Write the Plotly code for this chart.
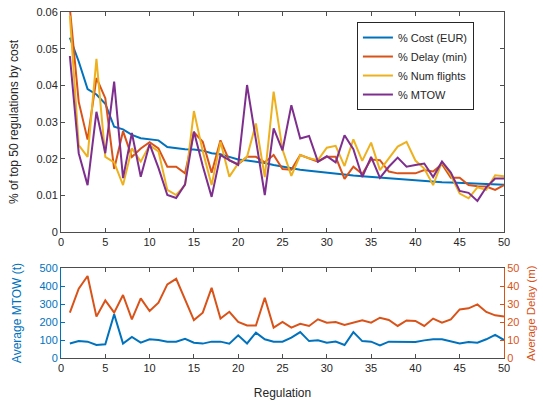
import plotly.graph_objects as go

regulation = list(range(1, 51))

pct_cost = [0.053, 0.0465, 0.039, 0.0375, 0.035, 0.0287, 0.028, 0.0265, 0.0256, 0.0254,
            0.025, 0.0232, 0.0228, 0.0226, 0.0225, 0.0222, 0.0215, 0.0212, 0.0205, 0.0198,
            0.0195, 0.0192, 0.0188, 0.0183, 0.0178, 0.0174, 0.017, 0.0167, 0.0164, 0.0162,
            0.0159, 0.0157, 0.0154, 0.0152, 0.015, 0.0148, 0.0146, 0.0144, 0.0142, 0.014,
            0.0139, 0.0137, 0.0136, 0.0135, 0.0134, 0.0133, 0.0132, 0.0131, 0.013, 0.0129]

pct_delay = [0.061, 0.0355, 0.0252, 0.042, 0.0365, 0.0172, 0.0275, 0.0205, 0.0228, 0.0245,
             0.0228, 0.0178, 0.0178, 0.016, 0.0272, 0.0246, 0.0162, 0.025, 0.0195, 0.0185,
             0.0205, 0.0205, 0.019, 0.021, 0.0172, 0.017, 0.021, 0.02, 0.0192, 0.0205,
             0.0205, 0.0145, 0.0178, 0.0158, 0.0198, 0.0196, 0.0165, 0.016, 0.016, 0.016,
             0.0169, 0.0165, 0.0185, 0.0148, 0.0148, 0.0128, 0.0125, 0.0124, 0.0115, 0.0128]

pct_flights = [0.059, 0.0237, 0.0205, 0.0472, 0.0205, 0.019, 0.0128, 0.0228, 0.0192, 0.0237,
               0.022, 0.0115, 0.0101, 0.0128, 0.033, 0.022, 0.0128, 0.0246, 0.0151, 0.0187,
               0.0205, 0.0296, 0.015, 0.0383, 0.0225, 0.0153, 0.021, 0.0201, 0.0196, 0.023,
               0.0235, 0.018, 0.0253, 0.0194, 0.0244, 0.0169, 0.0201, 0.0233, 0.0246, 0.0195,
               0.0173, 0.0128, 0.0191, 0.0155, 0.0105, 0.0092, 0.0122, 0.0115, 0.0155, 0.0152]

pct_mtow = [0.048, 0.0215, 0.0128, 0.0328, 0.0215, 0.041, 0.0147, 0.027, 0.0151, 0.024,
            0.0175, 0.0101, 0.0093, 0.013, 0.0274, 0.018, 0.0096, 0.021, 0.0196, 0.0183,
            0.0401, 0.025, 0.0101, 0.0283, 0.0223, 0.0346, 0.0255, 0.0262, 0.0192, 0.0207,
            0.019, 0.0264, 0.0226, 0.015, 0.0205, 0.0148, 0.0178, 0.0203, 0.0178, 0.0183,
            0.0187, 0.015, 0.0192, 0.0162, 0.0112, 0.0107, 0.0085, 0.0122, 0.0146, 0.0146]

avg_mtow = [81, 94, 91, 72, 76, 243, 80, 117, 85, 104,
            100, 91, 91, 107, 85, 80, 91, 91, 80, 126,
            81, 141, 104, 91, 91, 113, 144, 94, 98, 85,
            91, 72, 144, 94, 91, 70, 91, 91, 91, 89,
            98, 104, 104, 94, 81, 89, 85, 104, 128, 100]

avg_delay = [25.2, 38.5, 45.6, 23, 32, 25.2, 35, 21.5, 33.1, 26.1,
             30.7, 40.9, 44, 32.6, 21.1, 25.2, 39, 21.9, 25.7, 20,
             18.1, 18.1, 33.5, 16.9, 20, 16.9, 19, 17.8, 21.5, 19.6,
             20, 18.3, 19.6, 21, 19.6, 22.4, 21.1, 17.8, 20.9, 20.6,
             17.8, 21.9, 19.6, 21.5, 27, 27.6, 29.8, 25.6, 23.7, 23]

series_names = ["% Cost (EUR)", "% Delay (min)", "% Num flights", "% MTOW"]
colors = ["#0072BD", "#D95319", "#EDB120", "#7E2F8E"]

FONT = "Liberation Sans, Arial, sans-serif"
AXC = "#4d4d4d"

fig = go.Figure()
for name, vals, c in zip(series_names, [pct_cost, pct_delay, pct_flights, pct_mtow], colors):
    fig.add_trace(go.Scatter(x=regulation, y=vals, mode="lines", name=name,
                             line=dict(color=c, width=2), xaxis="x", yaxis="y"))

fig.add_trace(go.Scatter(x=regulation, y=avg_mtow, mode="lines", showlegend=False,
                         line=dict(color=colors[0], width=2), xaxis="x2", yaxis="y2"))
fig.add_trace(go.Scatter(x=regulation, y=avg_delay, mode="lines", showlegend=False,
                         line=dict(color=colors[1], width=2), xaxis="x2", yaxis="y3"))

common_x = dict(range=[0, 50], tickvals=list(range(0, 51, 5)), ticks="inside", ticklen=4,
                showline=True, linecolor=AXC, linewidth=1, mirror="ticks", showgrid=False,
                zeroline=False, tickcolor=AXC, tickfont=dict(size=11, color="#262626"),
                automargin=False)

fig.update_layout(
    width=543, height=405, autosize=False,
    margin=dict(l=61, r=39, t=12, b=47, autoexpand=False),
    paper_bgcolor="white", plot_bgcolor="white",
    font=dict(family=FONT, size=11, color="#262626"),
    xaxis=dict(domain=[0, 1], anchor="y", **common_x),
    yaxis=dict(domain=[0.364, 1], anchor="x", range=[0, 0.06], automargin=False,
               tickvals=[0, 0.01, 0.02, 0.03, 0.04, 0.05, 0.06],
               ticktext=["0", "0.01", "0.02", "0.03", "0.04", "0.05", "0.06"],
               ticks="inside", ticklen=4, showline=True, linecolor=AXC, mirror="ticks",
               tickcolor=AXC, showgrid=False, zeroline=False,
               tickfont=dict(size=11, color="#262626"),
               title=dict(text="% of top 50 regulations by cost", font=dict(size=12, color="#262626"))),
    xaxis2=dict(domain=[0, 1], anchor="y2",
                title=dict(text="Regulation", font=dict(size=12, color="#262626")),
                **common_x),
    yaxis2=dict(domain=[0, 0.26], anchor="x2", range=[0, 500], tickvals=list(range(0, 501, 100)),
                automargin=False,
                ticks="inside", ticklen=4, showline=True, linecolor=colors[0], tickcolor=colors[0],
                showgrid=False, zeroline=False, tickfont=dict(size=11, color=colors[0]),
                title=dict(text="Average MTOW (t)", font=dict(size=12, color=colors[0]))),
    yaxis3=dict(overlaying="y2", anchor="x2", side="right", range=[0, 50],
                tickvals=list(range(0, 51, 10)), automargin=False,
                ticks="inside", ticklen=4, showline=True, linecolor=colors[1], tickcolor=colors[1],
                showgrid=False, zeroline=False, tickfont=dict(size=11, color=colors[1])),
    legend=dict(x=0.668, y=0.971, xanchor="left", yanchor="top",
                bgcolor="white", bordercolor="#262626", borderwidth=1,
                font=dict(size=11, color="#262626"), itemwidth=30, tracegroupgap=0),
    annotations=[dict(text="Average Delay (m)", textangle=-90, xref="paper", yref="paper",
                      x=1.061, y=0.13, xanchor="center", yanchor="middle", showarrow=False,
                      font=dict(size=11.5, color=colors[1]))],
    showlegend=True,
)

fig.write_html("out.html", config={"displayModeBar": False},
               post_script="document.body.style.margin='0';document.body.style.overflow='hidden';")
